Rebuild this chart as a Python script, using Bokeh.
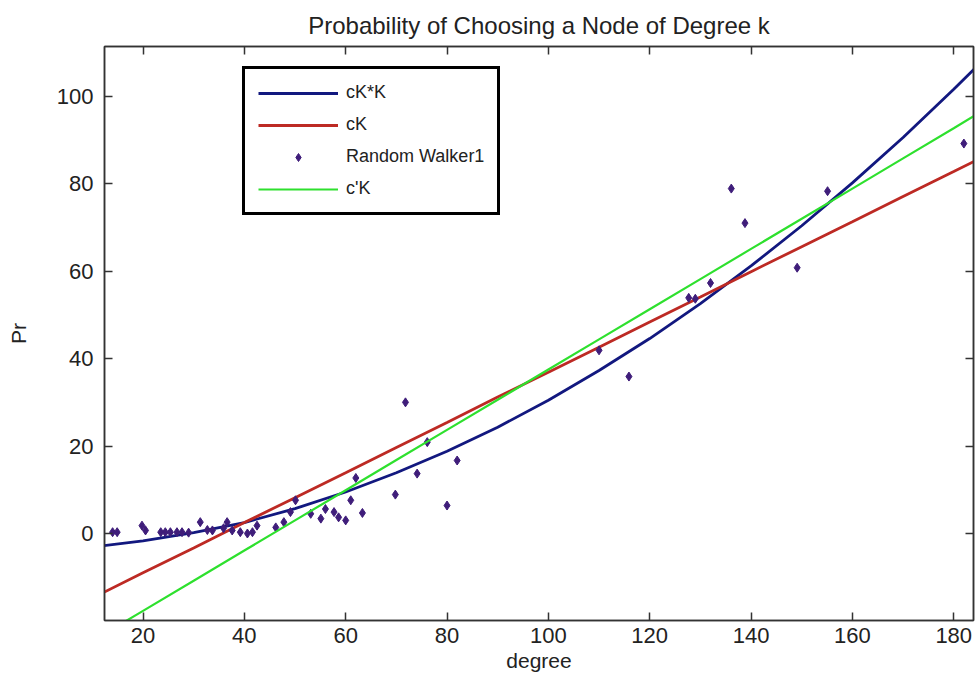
from bokeh.plotting import figure
from bokeh.models import LinearAxis, Range1d, FixedTicker, Legend, LegendItem, CustomJSTickFormatter
from bokeh.embed import file_html
from bokeh.resources import INLINE

# ---- data ----
walker_x = [14.0, 14.9, 19.8, 20.5, 23.5, 24.4, 25.4, 26.7, 27.7, 29.0,
            31.3, 32.7, 33.7, 35.9, 36.6, 37.6, 39.2, 40.6, 41.6, 42.5,
            46.2, 47.8, 49.1, 50.1, 53.1, 55.1, 56.0, 57.7, 58.6, 60.0,
            61.0, 62.0, 63.3, 69.8, 71.8, 74.1, 76.1, 80.0, 82.0, 110.0,
            115.9, 127.7, 129.0, 132.0, 136.1, 138.8, 149.1, 155.1, 182.0]
walker_y = [0.3, 0.3, 1.8, 0.7, 0.3, 0.3, 0.3, 0.3, 0.3, 0.2,
            2.6, 0.8, 0.7, 1.2, 2.6, 0.7, 0.3, 0.0, 0.3, 1.8,
            1.4, 2.6, 4.9, 7.6, 4.5, 3.4, 5.6, 4.9, 3.7, 3.0,
            7.6, 12.7, 4.7, 8.9, 30.0, 13.7, 20.9, 6.4, 16.7, 41.9,
            35.9, 53.9, 53.7, 57.3, 78.9, 71.0, 60.8, 78.3, 89.2]

curve_x = [12, 20, 30, 40, 50, 60, 70, 80, 90, 100, 110, 120, 130, 140,
           150, 160, 170, 180, 184]
ckk_y = [-2.8, -1.7, 0.2, 2.5, 5.7, 9.5, 13.9, 18.8, 24.3, 30.5, 37.3,
         44.6, 52.6, 61.2, 70.4, 80.2, 90.6, 101.6, 106.2]
ck_y = [-13.6, -9.0, -3.3, 2.5, 8.2, 13.9, 19.7, 25.4, 31.2, 36.9, 42.6,
        48.4, 54.1, 59.9, 65.6, 71.3, 77.1, 82.8, 85.1]
cpk_y = [-23.2, -17.7, -10.8, -3.9, 3.0, 9.9, 16.8, 23.7, 30.6, 37.5, 44.4,
         51.3, 58.2, 65.1, 72.0, 78.9, 85.8, 92.7, 95.5]

x_ticks = [20, 40, 60, 80, 100, 120, 140, 160, 180]
y_ticks = [0, 20, 40, 60, 80, 100]

FONT = "Liberation Sans"
AXIS_COLOR = "#333333"

p = figure(width=979, height=682, output_backend="svg", toolbar_location=None,
           x_range=Range1d(12.4, 183.9), y_range=Range1d(-19.9, 111.4),
           title="Probability of Choosing a Node of Degree k",
           min_border_left=104, min_border_right=6, min_border_top=46,
           min_border_bottom=62)
p.background_fill_color = "white"
p.border_fill_color = "white"
p.outline_line_color = AXIS_COLOR
p.outline_line_width = 1.5
p.xgrid.visible = False
p.ygrid.visible = False

p.title.align = "center"
p.title.text_font = FONT
p.title.text_font_style = "normal"
p.title.text_font_size = "24px"
p.title.text_color = "#222222"
p.title.standoff = 16

def style_axis(ax, ticks, labels=True):
    ax.ticker = FixedTicker(ticks=ticks)
    ax.major_tick_in = 8
    ax.major_tick_out = 0
    ax.minor_tick_line_color = None
    ax.axis_line_color = AXIS_COLOR
    ax.axis_line_width = 1.5
    ax.major_tick_line_color = AXIS_COLOR
    ax.major_tick_line_width = 1.5
    ax.major_label_text_font = FONT
    ax.major_label_text_color = "#222222"
    ax.axis_label_text_font = FONT
    ax.axis_label_text_font_style = "normal"
    ax.axis_label_text_color = "#222222"
    if labels:
        ax.major_label_text_font_size = "22px"
        ax.axis_label_text_font_size = "21px"
    else:
        ax.formatter = CustomJSTickFormatter(code="return ''")
        ax.major_label_text_font_size = "1px"
        ax.major_label_standoff = 0

style_axis(p.xaxis[0], x_ticks)
style_axis(p.yaxis[0], y_ticks)
p.xaxis[0].axis_label = "degree"
p.yaxis[0].axis_label = "Pr"
p.xaxis[0].major_label_standoff = 7
p.yaxis[0].major_label_standoff = 11
p.xaxis[0].axis_label_standoff = 3
p.yaxis[0].axis_label_standoff = 24

top_ax = LinearAxis()
style_axis(top_ax, x_ticks, labels=False)
p.add_layout(top_ax, "above")
right_ax = LinearAxis()
style_axis(right_ax, y_ticks, labels=False)
p.add_layout(right_ax, "right")

r_ckk = p.line(curve_x, ckk_y, line_color="#12187f", line_width=2.8)
r_ck = p.line(curve_x, ck_y, line_color="#bd2a24", line_width=2.8)
r_walk = p.scatter(walker_x, walker_y, marker="diamond", size=9,
                   fill_color="#3f1d7a", line_color="#3f1d7a")
r_cpk = p.line(curve_x, cpk_y, line_color="#2ee02e", line_width=2.2)

legend = Legend(items=[
    LegendItem(label="cK*K", renderers=[r_ckk]),
    LegendItem(label="cK", renderers=[r_ck]),
    LegendItem(label="Random Walker1", renderers=[r_walk]),
    LegendItem(label="c'K", renderers=[r_cpk]),
], location=(138, 405))
legend.margin = 0
legend.padding = 13
legend.spacing = 11
legend.glyph_width = 80
legend.glyph_height = 20
legend.label_standoff = 8
legend.label_text_font = FONT
legend.label_text_font_size = "18px"
legend.label_text_color = "#222222"
legend.border_line_color = "black"
legend.border_line_alpha = 1.0
legend.border_line_width = 3
legend.background_fill_color = "white"
legend.background_fill_alpha = 1.0
p.add_layout(legend, "center")

open("out.html", "w").write(file_html(p, INLINE))
